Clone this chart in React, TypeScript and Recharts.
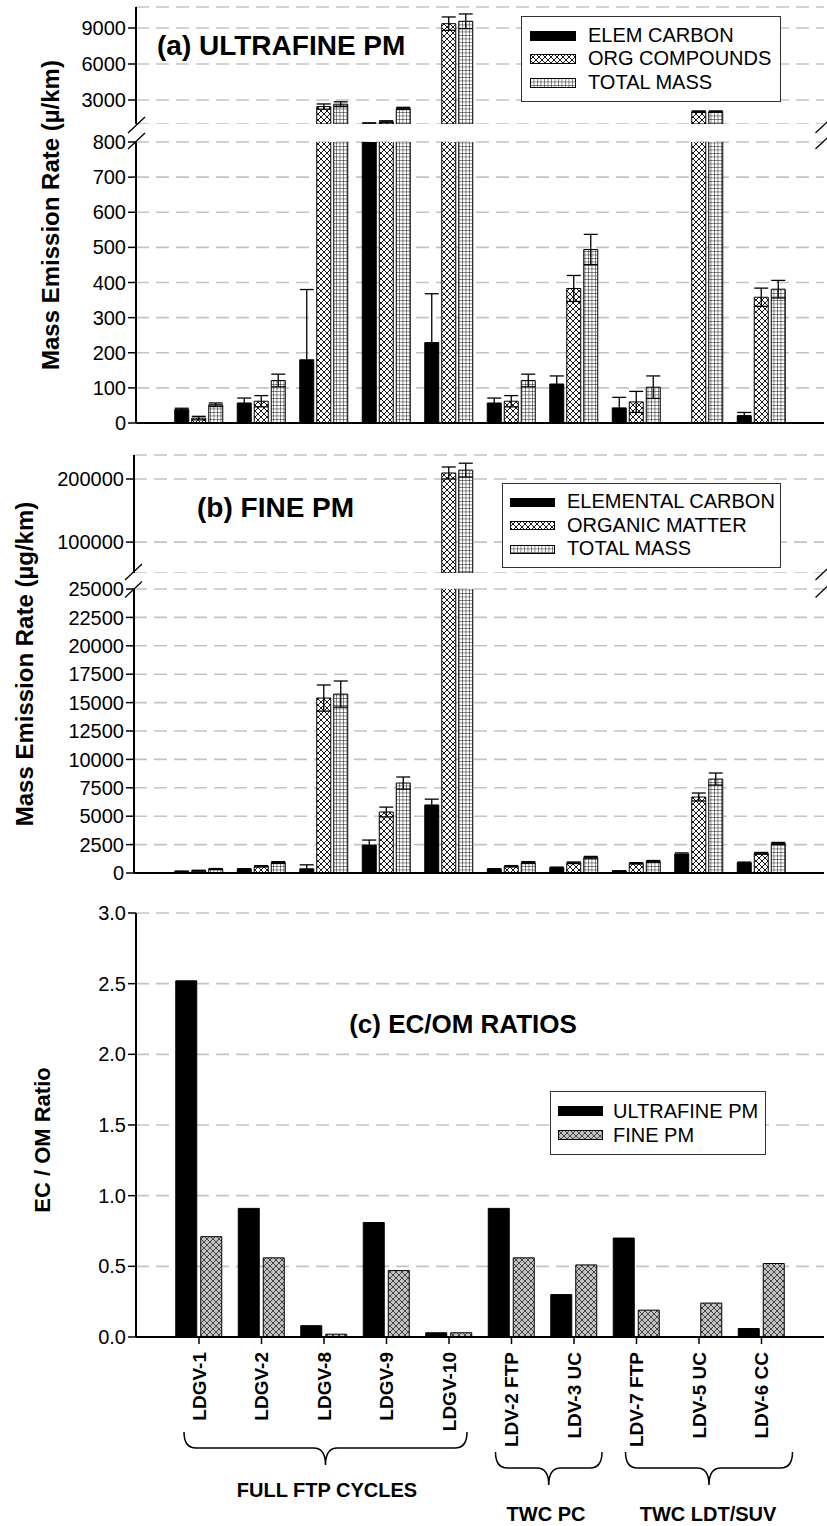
import React from 'react';
import { BarChart, Bar, XAxis, YAxis, CartesianGrid, ErrorBar, Legend } from 'recharts';

// ---------- data ----------
const categories = ['LDGV-1', 'LDGV-2', 'LDGV-8', 'LDGV-9', 'LDGV-10', 'LDV-2 FTP', 'LDV-3 UC', 'LDV-7 FTP', 'LDV-5 UC', 'LDV-6 CC'];

// (a) ultrafine PM mass emission rates with error values
const ufElemCarbon = [38, 57, 180, 960, 229, 57, 111, 43, 0, 21];
const ufElemCarbonErr = [4, 14, 200, 140, 139, 14, 23, 30, 22, 9];
const ufOrgCompounds = [14, 62, 2450, 1190, 9360, 62, 383, 60, 2030, 358];
const ufOrgCompoundsErr = [5, 16, 220, 80, 560, 16, 37, 30, 60, 26];
const ufTotalMass = [52, 121, 2650, 2300, 9560, 121, 494, 102, 2030, 381];
const ufTotalMassErr = [5, 18, 200, 90, 610, 18, 43, 32, 60, 25];

// (b) fine PM mass emission rates with error values
const fineElemCarbon = [140, 330, 370, 2460, 5990, 330, 460, 160, 1670, 900];
const fineElemCarbonErr = [30, 50, 350, 440, 510, 50, 60, 40, 100, 60];
const fineOrgMatter = [200, 590, 15400, 5370, 209500, 590, 900, 850, 6690, 1730];
const fineOrgMatterErr = [40, 60, 1150, 430, 9500, 60, 70, 60, 350, 80];
const fineTotalMass = [350, 920, 15750, 7920, 214000, 920, 1380, 1020, 8270, 2600];
const fineTotalMassErr = [40, 80, 1150, 530, 11000, 80, 80, 80, 530, 90];

// (c) EC/OM ratios
const ratioUltrafine = [2.52, 0.91, 0.08, 0.81, 0.03, 0.91, 0.3, 0.7, 0, 0.06];
const ratioFine = [0.71, 0.56, 0.02, 0.47, 0.03, 0.56, 0.51, 0.19, 0.24, 0.52];

// axis ticks and broken-axis domains
const ufLowTicks = [0, 100, 200, 300, 400, 500, 600, 700, 800];
const ufHighTicks = [3000, 6000, 9000];
const ufLowDomain: [number, number] = [0, 800];
const ufHighDomain: [number, number] = [1000, 10750];
const fineLowTicks = [0, 2500, 5000, 7500, 10000, 12500, 15000, 17500, 20000, 22500, 25000];
const fineHighTicks = [100000, 200000];
const fineLowDomain: [number, number] = [0, 25000];
const fineHighDomain: [number, number] = [51000, 238000];
const ratioTicks = [0, 0.5, 1, 1.5, 2, 2.5, 3];
const ratioDomain: [number, number] = [0, 3];

// ---------- tables ----------
// One row set per axis segment: marks that lie entirely below a segment are left out of it,
// error bars are kept inside the segment range.
type Col = { key: string; values: number[]; errs: number[] };

function segmentRows(cols: Col[], [min, max]: [number, number]) {
  return categories.map((cat, i) => {
    const row: Record<string, any> = { cat };
    cols.forEach(({ key, values, errs }) => {
      const v = values[i];
      const e = errs[i];
      const below = v + e < min;
      row[key] = below ? null : v;
      row[`${key}Err`] = below || v > max ? null : [Math.min(e, v - min), e];
    });
    return row;
  });
}

const ufCols: Col[] = [
  { key: 'ec', values: ufElemCarbon, errs: ufElemCarbonErr },
  { key: 'om', values: ufOrgCompounds, errs: ufOrgCompoundsErr },
  { key: 'tm', values: ufTotalMass, errs: ufTotalMassErr },
];
const fineCols: Col[] = [
  { key: 'ec', values: fineElemCarbon, errs: fineElemCarbonErr },
  { key: 'om', values: fineOrgMatter, errs: fineOrgMatterErr },
  { key: 'tm', values: fineTotalMass, errs: fineTotalMassErr },
];
const ufHighRows = segmentRows(ufCols, ufHighDomain);
const ufLowRows = segmentRows(ufCols, ufLowDomain);
const fineHighRows = segmentRows(fineCols, fineHighDomain);
const fineLowRows = segmentRows(fineCols, fineLowDomain);
const ratioRows = categories.map((cat, i) => ({ cat, uf: ratioUltrafine[i], fine: ratioFine[i] }));

// ---------- styling / layout ----------
const FONT = '"Liberation Sans", Arial, Helvetica, sans-serif';
const W = 827;
const H = 1526;
const PLOT_RIGHT = 824;
const FIRST_CENTER = 199;
const BAND = 62.5;
const GRID = '#c4c4c4';
const SOLID = '#000';
const XHATCH = 'url(#pat-xhatch)';
const SQGRID = 'url(#pat-grid)';
const FINEHATCH = 'url(#pat-fine)';

const center = (i: number) => FIRST_CENTER + BAND * i;

type Series = { key: string; err?: string; fill: string; name: string };

const massSeries = (names: string[]): Series[] => [
  { key: 'ec', err: 'ecErr', fill: SOLID, name: names[0] },
  { key: 'om', err: 'omErr', fill: XHATCH, name: names[1] },
  { key: 'tm', err: 'tmErr', fill: SQGRID, name: names[2] },
];
const ufSeries = massSeries(['ELEM CARBON', 'ORG COMPOUNDS', 'TOTAL MASS']);
const fineSeries = massSeries(['ELEMENTAL CARBON', 'ORGANIC MATTER', 'TOTAL MASS']);
const ratioSeries: Series[] = [
  { key: 'uf', fill: SOLID, name: 'ULTRAFINE PM' },
  { key: 'fine', fill: FINEHATCH, name: 'FINE PM' },
];

type LegendSpec = {
  left: number; top: number; width: number; height: number;
  swatchX: number; swatchW: number; swatchH: number; textX: number; rowH: number;
};

function LegendBox({ series, spec }: { series: Series[]; spec: LegendSpec }) {
  return (
    <div
      style={{
        width: spec.width, height: spec.height, boxSizing: 'border-box',
        border: '1.3px solid #333', background: '#fff', display: 'flex',
        flexDirection: 'column', justifyContent: 'center', fontFamily: FONT,
      }}
    >
      {series.map((s) => (
        <div key={s.key} style={{ position: 'relative', height: spec.rowH }}>
          <svg
            width={spec.swatchW}
            height={spec.swatchH}
            style={{ position: 'absolute', left: spec.swatchX - 1, top: (spec.rowH - spec.swatchH) / 2 }}
          >
            <rect x={0.5} y={0.5} width={spec.swatchW - 1} height={spec.swatchH - 1} fill={s.fill} stroke="#000" strokeWidth={1} />
          </svg>
          <span
            style={{
              position: 'absolute', left: spec.textX - 1, top: 0, lineHeight: `${spec.rowH}px`,
              fontSize: 20, color: '#000', whiteSpace: 'nowrap',
            }}
          >
            {s.name}
          </span>
        </div>
      ))}
    </div>
  );
}

type PanelProps = {
  rows: any[];
  series: Series[];
  top: number;
  plotTop: number;
  plotBottom: number;
  left: number;
  domain: [number, number];
  ticks: number[];
  showBottom: boolean;
  bottomHeight?: number;
  barSize: number;
  barGap: number;
  tickFormatter?: (v: number) => string;
  categoryTick?: any;
  legend?: LegendSpec;
};

function Panel(p: PanelProps) {
  const marginTop = p.plotTop - p.top;
  const axisH = p.showBottom ? (p.bottomHeight ?? 10) : 0;
  const height = p.plotBottom - p.top + axisH;
  const padL = FIRST_CENTER - BAND / 2 - p.left;
  const padR = PLOT_RIGHT - p.left - padL - BAND * categories.length;
  return (
    <div style={{ position: 'absolute', left: 0, top: p.top }}>
      <BarChart
        width={W}
        height={height}
        data={p.rows}
        margin={{ top: marginTop, right: W - PLOT_RIGHT, bottom: 0, left: 0 }}
        barSize={p.barSize}
        barGap={p.barGap}
      >
        <CartesianGrid vertical={false} stroke={GRID} strokeWidth={1.6} strokeDasharray="13 7" />
        <XAxis
          dataKey="cat"
          hide={!p.showBottom}
          height={axisH}
          padding={{ left: padL, right: padR }}
          axisLine={{ stroke: '#000', strokeWidth: 2 }}
          tickLine={{ stroke: '#000', strokeWidth: 1.5 }}
          tickSize={7}
          tickMargin={8}
          interval={0}
          tick={p.categoryTick ?? false}
        />
        <XAxis
          xAxisId="frameTop"
          dataKey="cat"
          orientation="top"
          height={0}
          padding={{ left: padL, right: padR }}
          tick={false}
          tickLine={false}
          axisLine={{ stroke: '#222', strokeWidth: 1.5 }}
        />
        <YAxis
          width={p.left}
          domain={p.domain}
          ticks={p.ticks}
          interval={0}
          allowDataOverflow
          tickSize={8}
          tickMargin={2}
          tickFormatter={p.tickFormatter}
          axisLine={{ stroke: '#000', strokeWidth: 2 }}
          tickLine={{ stroke: '#000', strokeWidth: 1.5 }}
          tick={{ fontSize: 20, fill: '#000', fontFamily: FONT }}
        />
        <YAxis
          yAxisId="frameRight"
          orientation="right"
          width={0}
          tick={false}
          tickLine={false}
          axisLine={{ stroke: '#222', strokeWidth: 1.5 }}
        />
        {p.series.map((s) => (
          <Bar key={s.key} dataKey={s.key} name={s.name} fill={s.fill} stroke="#000" strokeWidth={1} isAnimationActive={false}>
            {s.err ? <ErrorBar dataKey={s.err} width={7} stroke="#000" strokeWidth={1.3} direction="y" /> : null}
          </Bar>
        ))}
        {p.legend ? (
          <Legend
            layout="horizontal"
            align="center"
            verticalAlign="middle"
            wrapperStyle={{ left: p.legend.left, top: p.legend.top, width: p.legend.width, height: p.legend.height }}
            content={() => <LegendBox series={p.series} spec={p.legend as LegendSpec} />}
          />
        ) : null}
      </BarChart>
    </div>
  );
}

const CategoryTick = (props: any) => {
  const { x, y, payload } = props;
  return (
    <text
      x={x}
      y={y}
      transform={`rotate(-90 ${x} ${y})`}
      textAnchor="end"
      dominantBaseline="central"
      fontSize={19}
      fontWeight="bold"
      fontFamily={FONT}
      fill="#000"
    >
      {payload.value}
    </text>
  );
};

// curly brace opening upward, with its point below the middle
function Brace({ x1, x2, yTop, yMid, yTip }: { x1: number; x2: number; yTop: number; yMid: number; yTip: number }) {
  const xm = (x1 + x2) / 2;
  const r = 12;
  const d = `M${x1},${yTop} Q${x1},${yMid} ${x1 + r},${yMid} L${xm - r},${yMid} Q${xm},${yMid} ${xm},${yTip} Q${xm},${yMid} ${xm + r},${yMid} L${x2 - r},${yMid} Q${x2},${yMid} ${x2},${yTop}`;
  return <path d={d} fill="none" stroke="#000" strokeWidth={1.5} />;
}

// slash marking an axis break
function BreakMark({ x, y }: { x: number; y: number }) {
  return <line x1={x - 8.5} y1={y + 8} x2={x + 8.5} y2={y - 8} stroke="#000" strokeWidth={1.3} />;
}

const boldText = { fontFamily: FONT, fontWeight: 'bold' as const, fill: '#000' };

export default function App() {
  return (
    <div style={{ position: 'absolute', left: 0, top: 0, width: W, height: H, background: '#fff', overflow: 'hidden' }}>
      <svg width={0} height={0} style={{ position: 'absolute' }}>
        <defs>
          <pattern id="pat-xhatch" patternUnits="userSpaceOnUse" width={6} height={6}>
            <rect width={6} height={6} fill="#fff" />
            <path d="M0,0 L6,6 M6,0 L0,6" stroke="#000" strokeWidth={0.9} />
          </pattern>
          <pattern id="pat-grid" patternUnits="userSpaceOnUse" width={3.5} height={3.5}>
            <rect width={3.5} height={3.5} fill="#fff" />
            <path d="M0,0 H3.5 M0,0 V3.5" stroke="#000" strokeWidth={0.9} />
          </pattern>
          <pattern id="pat-fine" patternUnits="userSpaceOnUse" width={6} height={6}>
            <rect width={6} height={6} fill="#c2c2c2" />
            <path d="M0,0 L6,6 M6,0 L0,6" stroke="#222" strokeWidth={0.8} />
          </pattern>
        </defs>
      </svg>

      {/* (a) ultrafine PM: upper and lower segments of the broken axis */}
      <Panel
        rows={ufHighRows} series={ufSeries} top={0} plotTop={7} plotBottom={124} left={136}
        domain={ufHighDomain} ticks={ufHighTicks} showBottom={false} barSize={14} barGap={3}
        legend={{ left: 521, top: 16, width: 260, height: 86, swatchX: 9, swatchW: 46, swatchH: 10, textX: 67, rowH: 23.5 }}
      />
      <Panel
        rows={ufLowRows} series={ufSeries} top={132} plotTop={142} plotBottom={423} left={136}
        domain={ufLowDomain} ticks={ufLowTicks} showBottom barSize={14} barGap={3}
      />

      {/* (b) fine PM */}
      <Panel
        rows={fineHighRows} series={fineSeries} top={445} plotTop={455} plotBottom={573} left={134}
        domain={fineHighDomain} ticks={fineHighTicks} showBottom={false} barSize={14} barGap={3}
        legend={{ left: 502, top: 38, width: 279, height: 85, swatchX: 8, swatchW: 45, swatchH: 9, textX: 65, rowH: 23.5 }}
      />
      <Panel
        rows={fineLowRows} series={fineSeries} top={579} plotTop={589} plotBottom={873} left={134}
        domain={fineLowDomain} ticks={fineLowTicks} showBottom barSize={14} barGap={3}
      />

      {/* (c) EC/OM ratios */}
      <Panel
        rows={ratioRows} series={ratioSeries} top={900} plotTop={913} plotBottom={1337} left={136}
        domain={ratioDomain} ticks={ratioTicks} showBottom bottomHeight={120} barSize={21} barGap={4}
        tickFormatter={(v: number) => v.toFixed(1)} categoryTick={<CategoryTick />}
        legend={{ left: 550, top: 191, width: 216, height: 64, swatchX: 8, swatchW: 45, swatchH: 10, textX: 63, rowH: 24.5 }}
      />

      {/* titles, axis titles, axis breaks and group braces */}
      <svg width={W} height={H} style={{ position: 'absolute', left: 0, top: 0, pointerEvents: 'none' }}>
        <text x={157} y={55} fontSize={28} {...boldText}>(a) ULTRAFINE PM</text>
        <text x={197} y={517} fontSize={28} {...boldText}>(b) FINE PM</text>
        <text x={463} y={1033} fontSize={26} textAnchor="middle" {...boldText}>(c) EC/OM RATIOS</text>

        <text x={50} y={215} fontSize={24} textAnchor="middle" dominantBaseline="central" transform="rotate(-90 50 215)" {...boldText}>
          Mass Emission Rate (µ/km)
        </text>
        <text x={24} y={664} fontSize={24} textAnchor="middle" dominantBaseline="central" transform="rotate(-90 24 664)" {...boldText}>
          Mass Emission Rate (µg/km)
        </text>
        <text x={42} y={1140} fontSize={22} textAnchor="middle" dominantBaseline="central" transform="rotate(-90 42 1140)" {...boldText}>
          EC / OM Ratio
        </text>

        <BreakMark x={136.5} y={125} />
        <BreakMark x={136.5} y={141} />
        <BreakMark x={824} y={125} />
        <BreakMark x={824} y={141} />
        <BreakMark x={133.5} y={572} />
        <BreakMark x={133.5} y={589.5} />
        <BreakMark x={824} y={572} />
        <BreakMark x={824} y={589.5} />

        <Brace x1={center(0) - 15} x2={center(4) + 18} yTop={1432} yMid={1448} yTip={1465} />
        <Brace x1={center(5) - 16} x2={center(6) + 28} yTop={1452} yMid={1468} yTip={1485} />
        <Brace x1={center(7) - 11} x2={center(9) + 31} yTop={1452} yMid={1468} yTip={1485} />
        <text x={327} y={1490} fontSize={20} textAnchor="middle" dominantBaseline="central" {...boldText}>FULL FTP CYCLES</text>
        <text x={546} y={1514} fontSize={20} textAnchor="middle" dominantBaseline="central" {...boldText}>TWC PC</text>
        <text x={708} y={1514} fontSize={20} textAnchor="middle" dominantBaseline="central" {...boldText}>TWC LDT/SUV</text>
      </svg>
    </div>
  );
}
